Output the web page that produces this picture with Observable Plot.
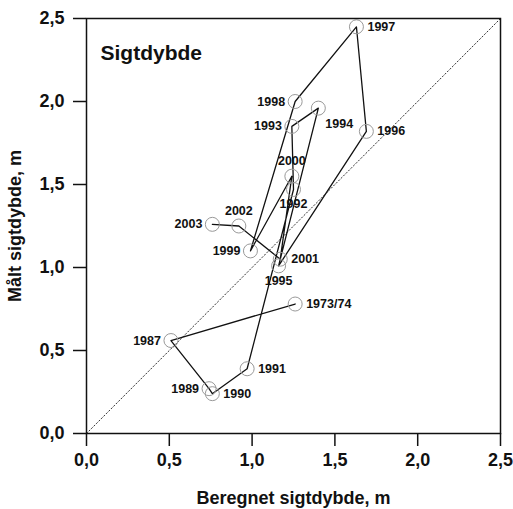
<!DOCTYPE html>
<html>
<head>
<meta charset="utf-8">
<script src="https://cdn.jsdelivr.net/npm/d3@7"></script>
<script src="https://cdn.jsdelivr.net/npm/@observablehq/plot@0.6"></script>
<style>
  html, body { margin: 0; padding: 0; background: #fff; }
</style>
</head>
<body>
<div id="chart"></div>
<script>
// Beregnet (modelled) vs målt (measured) sigtdybde, per år
const years = ["1973/74", "1987", "1989", "1990", "1991", "1992", "1993", "1994", "1995",
               "1996", "1997", "1998", "1999", "2000", "2001", "2002", "2003"];
const beregnet = [1.26, 0.51, 0.74, 0.76, 0.97, 1.25, 1.24, 1.40, 1.16,
                  1.69, 1.63, 1.26, 0.99, 1.24, 1.17, 0.92, 0.76];
const maalt = [0.78, 0.56, 0.27, 0.24, 0.39, 1.47, 1.85, 1.96, 1.01,
               1.82, 2.45, 2.00, 1.10, 1.55, 1.05, 1.25, 1.26];
const axisTicks = [0, 0.5, 1.0, 1.5, 2.0, 2.5];
const diagonal = [0, 2.5];

// which side of its circle each year label sits
const labelsLeft = ["1987", "1989", "1993", "1998", "1999", "2003"];
const labelsAbove = ["2000", "2002"];
const labelsBelow = ["1992", "1995"];
const labelsBelowRight = ["1994"];

const data = years.map((year, i) => ({year, beregnet: beregnet[i], maalt: maalt[i]}));
const side = d =>
  labelsLeft.includes(d.year) ? "left" :
  labelsAbove.includes(d.year) ? "above" :
  labelsBelow.includes(d.year) ? "below" :
  labelsBelowRight.includes(d.year) ? "belowRight" : "right";

const fmt = d => d.toFixed(1).replace(".", ",");
const labelFont = {fontSize: 12.5, fontWeight: "bold", fill: "#111"};

const chart = Plot.plot({
  width: 513,
  height: 509,
  marginLeft: 86,
  marginRight: 13,
  marginTop: 18,
  marginBottom: 76,
  style: {fontFamily: "'Liberation Sans', Arial, sans-serif", fontWeight: "bold", color: "#111", background: "#fff"},
  x: {domain: [0, 2.5]},
  y: {domain: [0, 2.5]},
  marks: [
    Plot.line(diagonal, {x: d => d, y: d => d, stroke: "#333", strokeWidth: 1, strokeDasharray: "1.3,2.2"}),
    Plot.line(data, {x: "beregnet", y: "maalt", stroke: "#111", strokeWidth: 1.3, curve: "linear"}),
    Plot.dot(data, {x: "beregnet", y: "maalt", r: 7, stroke: "#999", strokeWidth: 1, fill: "none"}),
    Plot.text(data.filter(d => side(d) === "right"), {x: "beregnet", y: "maalt", text: "year", textAnchor: "start", dx: 11, ...labelFont}),
    Plot.text(data.filter(d => side(d) === "left"), {x: "beregnet", y: "maalt", text: "year", textAnchor: "end", dx: -10, ...labelFont}),
    Plot.text(data.filter(d => side(d) === "above"), {x: "beregnet", y: "maalt", text: "year", textAnchor: "middle", dy: -15, ...labelFont}),
    Plot.text(data.filter(d => side(d) === "below"), {x: "beregnet", y: "maalt", text: "year", textAnchor: "middle", dy: 15, ...labelFont}),
    Plot.text(data.filter(d => side(d) === "belowRight"), {x: "beregnet", y: "maalt", text: "year", textAnchor: "start", dx: 7, dy: 16, ...labelFont}),
    Plot.text(["Sigtdybde"], {frameAnchor: "top-left", dx: 14, dy: 27, textAnchor: "start", fontSize: 21, fontWeight: "bold", fill: "#111"}),
    Plot.frame({stroke: "#111", strokeWidth: 1.5}),
    Plot.axisX({
      ticks: axisTicks, tickFormat: fmt, tickSize: 13, tickPadding: 7, strokeWidth: 1.5,
      fontSize: 18, label: "Beregnet sigtdybde, m", labelAnchor: "center", labelArrow: "none", labelOffset: 70
    }),
    Plot.axisY({
      ticks: axisTicks, tickFormat: fmt, tickSize: 13, tickPadding: 9, strokeWidth: 1.5,
      fontSize: 18, label: "Målt sigtdybde, m", labelAnchor: "center", labelArrow: "none", labelOffset: 78
    })
  ]
});
document.getElementById("chart").append(chart);
</script>
</body>
</html>
